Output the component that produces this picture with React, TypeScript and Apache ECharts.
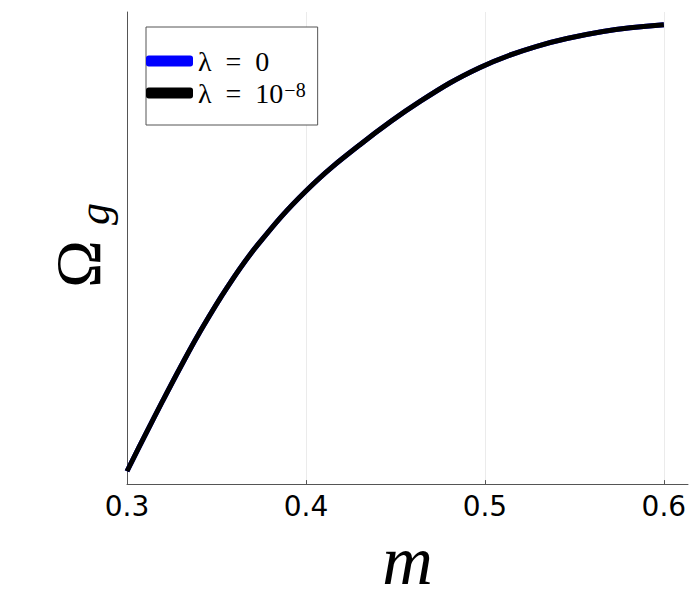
import React, { useEffect, useRef } from 'react';
import * as echarts from 'echarts';

const mValues = [0.300, 0.310, 0.320, 0.330, 0.340, 0.356, 0.373, 0.400, 0.430, 0.464, 0.497, 0.529, 0.566, 0.600];
const omegaLambda0 = [0.000, 0.080, 0.158, 0.234, 0.307, 0.412, 0.507, 0.628, 0.731, 0.829, 0.904, 0.952, 0.985, 1.000];
const omegaLambda1e8 = [0.000, 0.080, 0.158, 0.234, 0.307, 0.412, 0.507, 0.628, 0.731, 0.829, 0.904, 0.952, 0.985, 1.000];
const xTicks = [0.3, 0.4, 0.5, 0.6];
const seriesNames = ['λ = 0', 'λ = 10^-8'];

export default function App() {
  const ref = useRef<HTMLDivElement>(null);
  useEffect(() => {
    if (!ref.current) return;
    const chart = echarts.init(ref.current, null, { renderer: 'svg' });
    const serif = 'Liberation Serif';
    chart.setOption({
      animation: false,
      backgroundColor: '#ffffff',
      grid: { left: 127, right: 12, top: 12, bottom: 110, containLabel: false },
      legend: {
        orient: 'vertical',
        left: 146,
        top: 27,
        padding: [20, 12, 11, 0],
        itemGap: 4,
        itemWidth: 47,
        itemHeight: 11,
        icon: 'roundRect',
        borderColor: '#555',
        borderWidth: 1,
        backgroundColor: '#fff',
        data: seriesNames,
        formatter: (name: string) => (name === seriesNames[1] ? '{t|λ  =  10}{s|−8}' : '{t|λ  =  0}'),
        textStyle: {
          fontFamily: serif,
          fontSize: 28,
          color: '#000',
          rich: {
            t: { fontFamily: serif, fontSize: 28, color: '#000', lineHeight: 26 },
            s: { fontFamily: serif, fontSize: 20, color: '#000', verticalAlign: 'top', padding: [0, 0, 14, 1], lineHeight: 26 },
          },
        },
      },
      graphic: [
        {
          type: 'text',
          x: 78.5,
          y: 264,
          rotation: Math.PI / 2,
          style: { text: 'Ω', fontFamily: serif, fontSize: 64, fill: '#000', align: 'center', verticalAlign: 'middle' },
        },
        {
          type: 'text',
          x: 94,
          y: 214,
          rotation: Math.PI / 2,
          style: { text: 'g', fontFamily: serif, fontStyle: 'italic', fontSize: 44, fill: '#000', align: 'center', verticalAlign: 'middle' },
        },
      ],
      xAxis: {
        type: 'value',
        min: 0.3,
        max: 0.6135,
        name: 'm',
        nameLocation: 'middle',
        nameGap: 20,
        nameTextStyle: { fontFamily: serif, fontStyle: 'italic', fontSize: 70, color: '#000' },
        axisLine: { show: true, onZero: false, lineStyle: { color: '#555', width: 1 } },
        axisTick: { show: true, inside: true, length: 4, customValues: xTicks, lineStyle: { color: '#555' } },
        axisLabel: {
          customValues: xTicks,
          formatter: (v: number) => v.toFixed(1),
          fontFamily: 'DejaVu Sans',
          fontSize: 28,
          color: '#000',
          margin: 8,
        },
        splitLine: { show: false },
      },
      yAxis: {
        type: 'value',
        min: -0.0288,
        max: 1.0288,
        axisLine: { show: true, onZero: false, lineStyle: { color: '#555', width: 1 } },
        axisTick: { show: false },
        axisLabel: { show: false },
        splitLine: { show: false },
      },
      series: [
        {
          name: seriesNames[0],
          type: 'line',
          data: mValues.map((m, i) => [m, omegaLambda0[i]]),
          smooth: 0.4,
          showSymbol: false,
          lineStyle: { color: '#0000ff', width: 5 },
          itemStyle: { color: '#0000ff' },
          markLine: {
            silent: true,
            symbol: 'none',
            label: { show: false },
            lineStyle: { color: '#ebebeb', width: 1, type: 'solid' },
            data: xTicks.filter((t) => t > 0.3).map((t) => ({ xAxis: t })),
            z: 0,
          },
        },
        {
          name: seriesNames[1],
          type: 'line',
          data: mValues.map((m, i) => [m, omegaLambda1e8[i]]),
          smooth: 0.4,
          showSymbol: false,
          lineStyle: { color: '#000000', width: 5 },
          itemStyle: { color: '#000000' },
        },
      ],
    });
    return () => chart.dispose();
  }, []);
  return <div ref={ref} style={{ position: 'fixed', left: 0, top: 0, width: 700, height: 600 }} />;
}
